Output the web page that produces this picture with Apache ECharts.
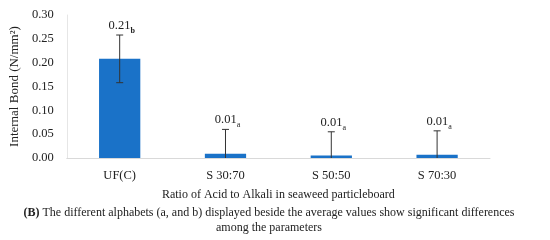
<!DOCTYPE html>
<html><head><meta charset="utf-8">
<script src="https://cdn.jsdelivr.net/npm/echarts@6/dist/echarts.min.js"></script>
<style>html,body{margin:0;padding:0;background:#fff}#c{width:550px;height:240px}</style>
</head><body><div id="c"></div>
<script>
var categories = ['UF(C)', 'S 30:70', 'S 50:50', 'S 70:30'];
var means = [0.208, 0.009, 0.005, 0.007];
var errors = [0.050, 0.051, 0.050, 0.050];
var labelValues = ['0.21', '0.01', '0.01', '0.01'];
var labelLetters = ['b', 'a', 'a', 'a'];
var yTicks = [0, 0.05, 0.10, 0.15, 0.20, 0.25, 0.30];

var FONT = '"Liberation Serif", "DejaVu Serif", serif';
var chart = echarts.init(document.getElementById('c'));
var errData = categories.map(function (c, i) { return [i, means[i], errors[i]]; });

chart.setOption({
  animation: false,
  grid: { left: 63, right: 60, top: 15, bottom: 82 },
  xAxis: {
    type: 'category', data: categories,
    axisLine: { lineStyle: { color: '#d9d9d9', width: 1 } },
    axisTick: { show: false },
    axisLabel: { color: '#222', fontFamily: FONT, fontSize: 12.5, margin: 11 },
    name: 'Ratio of Acid to Alkali in seaweed particleboard',
    nameLocation: 'middle', nameGap: 31,
    nameTextStyle: { color: '#222', fontFamily: FONT, fontSize: 12 }
  },
  yAxis: {
    type: 'value', min: yTicks[0], max: yTicks[yTicks.length - 1], interval: 0.05,
    splitLine: { show: false },
    axisLine: { show: true, lineStyle: { color: '#e6e6e6', width: 1 } }, axisTick: { show: false },
    axisLabel: { color: '#222', fontFamily: FONT, fontSize: 12.5, margin: 13,
      formatter: function (v) { return v.toFixed(2); } },
    name: 'Internal Bond (N/mm²)', nameLocation: 'middle', nameGap: 43,
    nameTextStyle: { color: '#222', fontFamily: FONT, fontSize: 13 }
  },
  series: [{
    type: 'bar', data: means, barWidth: '39%',
    itemStyle: { color: '#1a72c8' }
  }, {
    type: 'custom', data: errData, z: 10,
    renderItem: function (params, api) {
      var i = api.value(0), m = api.value(1), e = api.value(2);
      var lo = Math.max(0, m - e), hi = m + e;
      var pHi = api.coord([i, hi]), pLo = api.coord([i, lo]);
      var cap = 3.5;
      var children = [
        { type: 'line', shape: { x1: pHi[0], y1: pHi[1], x2: pLo[0], y2: pLo[1] }, style: { stroke: '#333', lineWidth: 1 } },
        { type: 'line', shape: { x1: pHi[0] - cap, y1: pHi[1], x2: pHi[0] + cap, y2: pHi[1] }, style: { stroke: '#333', lineWidth: 1 } }
      ];
      if (m - e > 0) {
        children.push({ type: 'line', shape: { x1: pLo[0] - cap, y1: pLo[1], x2: pLo[0] + cap, y2: pLo[1] }, style: { stroke: '#333', lineWidth: 1 } });
      }
      children.push({
        type: 'text', x: pHi[0] + 2, y: pHi[1] - 3,
        style: {
          text: '{v|' + labelValues[params.dataIndex] + '}{s|' + labelLetters[params.dataIndex] + '}',
          align: 'center', verticalAlign: 'bottom',
          rich: {
            v: { fontFamily: FONT, fontSize: 12.5, fill: '#222', lineHeight: 14, verticalAlign: 'bottom' },
            s: { fontFamily: FONT, fontSize: 8, fill: '#222', lineHeight: 14, verticalAlign: 'bottom', padding: [0, 0, -3, 0], fontWeight: labelLetters[params.dataIndex] === 'b' ? 'bold' : 'normal' }
          }
        }
      });
      return { type: 'group', children: children };
    }
  }],
  graphic: [{
    type: 'text', x: 269, y: 207,
    style: {
      text: '{b|(B)} The different alphabets (a, and b) displayed beside the average values show significant differences',
      align: 'center',
      fill: '#222', fontFamily: FONT, fontSize: 12,
      rich: { b: { fontFamily: FONT, fontSize: 12, fontWeight: 'bold', fill: '#222' } }
    }
  }, {
    type: 'text', x: 269, y: 222,
    style: { text: 'among the parameters', align: 'center', fill: '#222', fontFamily: FONT, fontSize: 12 }
  }]
});
</script></body></html>
